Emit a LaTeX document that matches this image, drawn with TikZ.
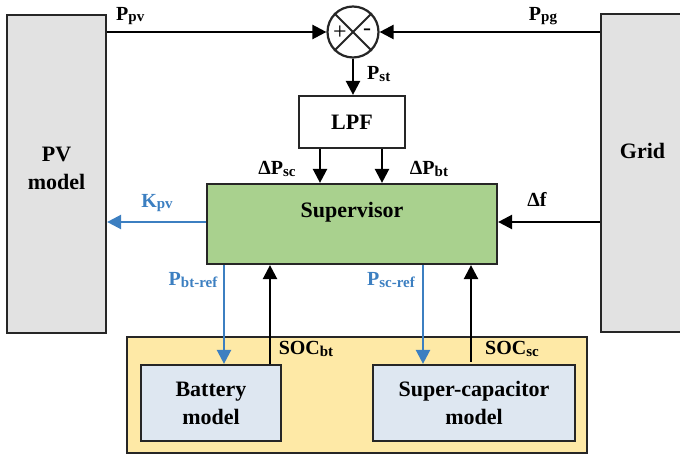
\documentclass[tikz,border=0pt]{standalone}
\usepackage{fontspec}
\setmainfont{Liberation Serif}
\usetikzlibrary{arrows.meta,calc}
\definecolor{boxgray}{HTML}{E2E2E2}
\definecolor{supgreen}{HTML}{A9D18E}
\definecolor{storyellow}{HTML}{FEE9A6}
\definecolor{modblue}{HTML}{DEE7F1}
\definecolor{refblue}{HTML}{3C7FC1}
\definecolor{edge}{HTML}{262626}
\newcommand\sbs[1]{\raisebox{-1.5pt}{\fontsize{15}{15}\selectfont #1}}
\tikzset{
  boxfont/.style={font=\bfseries\fontsize{22}{28}\selectfont, align=center},
  lblfont/.style={font=\bfseries\fontsize{20}{24}\selectfont, inner sep=0pt},
  blk/.style={draw=edge, line width=2.2pt, rectangle, inner sep=0pt, boxfont},
  graybox/.style={blk, fill=boxgray},
  conn/.style={draw=black, line width=2.4pt, -{Triangle[length=14pt,width=14pt]}},
  refconn/.style={draw=refblue, line width=2.4pt, -{Triangle[length=14pt,width=14pt]}},
  blulbl/.style={lblfont, text=refblue},
}
\begin{document}
\begin{tikzpicture}[x=1pt,y=-1pt]
\useasboundingbox (0,0) rectangle (680,454);
% big side boxes
\node[graybox, minimum width=99pt, minimum height=318pt,
  label={[boxfont, yshift=6pt, name=pvtext]center:PV\\model}] (pv) at (56.5,174) {};
\node[graybox, minimum width=83pt, minimum height=318pt,
  label={[boxfont, yshift=22pt, name=gridtext]center:Grid}] (grid) at (642.5,173) {};
% storage area
\node[blk, fill=storyellow, minimum width=460pt, minimum height=116pt] (stor) at (357,395) {};
\node[blk, fill=modblue, minimum width=140pt, minimum height=76pt] (bat) at (211,403) {Battery\\model};
\node[blk, fill=modblue, minimum width=202pt, minimum height=76pt] (sc) at (474,403) {Super-capacitor\\model};
% summing junction
\node[draw=edge, line width=2.2pt, circle, minimum size=51pt, inner sep=0pt, fill=white] (sum) at (353,32) {};
\draw[edge, line width=1.8pt] (sum.north west) -- (sum.south east);
\draw[edge, line width=1.8pt] (sum.north east) -- (sum.south west);
\node[font=\fontsize{24}{24}\selectfont, inner sep=0pt] (plus) at (340,33) {+};
\node[font=\fontsize{24}{24}\selectfont, inner sep=0pt] (minus) at (367,32) {-};
% LPF and supervisor
\node[blk, fill=white, minimum width=106pt, minimum height=52pt] (lpf) at (352,122) {LPF};
\node[blk, fill=supgreen, minimum width=290pt, minimum height=80pt,
  label={[boxfont, yshift=12pt, name=suptext]center:Supervisor}] (sup) at (352,224) {};
% connectors
\draw[conn] (pv.east |- sum.west) -- (sum.west);
\draw[conn] (grid.west |- sum.east) -- (sum.east);
\draw[conn] (sum.south) -- (sum.south |- lpf.north);
\draw[conn] ([xshift=-32pt]lpf.south) -- ([xshift=-32pt]lpf.south |- sup.north);
\draw[conn] ([xshift=30pt]lpf.south) -- ([xshift=30pt]lpf.south |- sup.north);
\draw[refconn] ([yshift=2pt]sup.west) -- ([yshift=2pt]sup.west -| pv.east);
\draw[conn] ([yshift=2pt]sup.east -| grid.west) -- ([yshift=2pt]sup.east);
\draw[refconn] ([xshift=13pt]bat.north |- sup.south) -- ([xshift=13pt]bat.north);
\draw[conn] ([xshift=59pt]bat.north) -- ([xshift=59pt]bat.north |- sup.south);
\draw[refconn] ([xshift=-51pt]sc.north |- sup.south) -- ([xshift=-51pt]sc.north);
\draw[conn] ([xshift=-3pt,yshift=2pt]sc.north) -- ([xshift=-3pt]sc.north |- sup.south);
% labels
\node[lblfont, anchor=west] (lppv) at (116,16) {P\sbs{pv}};
\node[lblfont] (lppg) at (543,16) {P\sbs{pg}};
\node[lblfont, anchor=west] (lpst) at (367,74) {P\sbs{st}};
\node[lblfont] (ldpsc) at (277,169) {ΔP\sbs{sc}};
\node[lblfont] (ldpbt) at (429,169) {ΔP\sbs{bt}};
\node[blulbl] (lkpv) at (157,203) {K\sbs{pv}};
\node[lblfont] (ldf) at (537,199) {Δf};
\node[blulbl] (lpbt) at (193,280) {P\sbs{bt-ref}};
\node[blulbl] (lpsc) at (391,280) {P\sbs{sc-ref}};
\node[lblfont] (lsocbt) at (306,349) {SOC\sbs{bt}};
\node[lblfont] (lsocsc) at (512,349) {SOC\sbs{sc}};
\end{tikzpicture}
\end{document}
